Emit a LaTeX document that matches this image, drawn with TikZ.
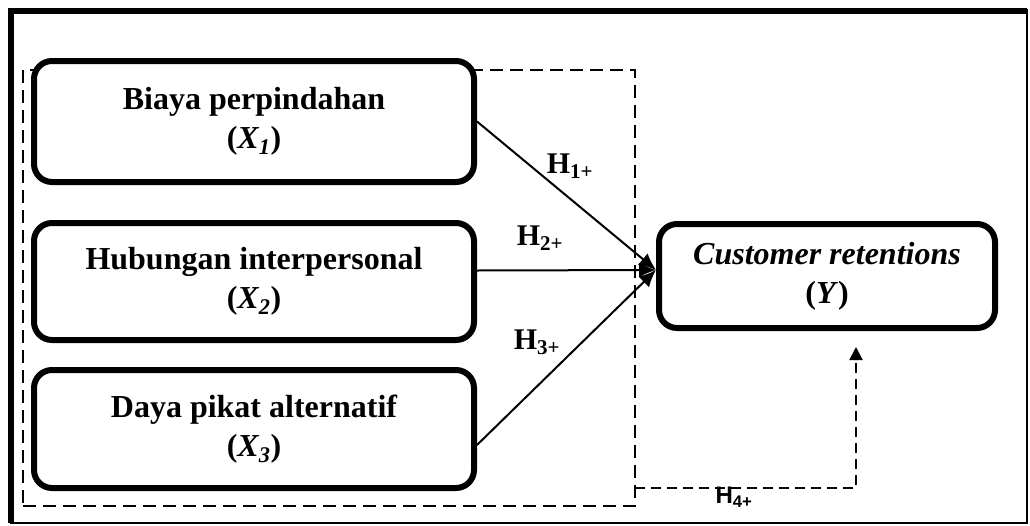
\documentclass[tikz,border=0pt]{standalone}
\usepackage{fontspec}
\setmainfont{Liberation Serif}
\setsansfont{Liberation Sans}
\usepackage{tikz}
\usetikzlibrary{arrows.meta}
\usetikzlibrary{positioning}

\begin{document}
\begin{tikzpicture}[x=1pt,y=-1pt,-,auto,semithick]
  \tikzstyle{varbox}=[draw, line width=6pt, rounded corners=18pt, fill=white, align=center,
     minimum width=440pt, font=\fontsize{32}{39}\selectfont\bfseries]
  \tikzstyle{hlab}=[inner sep=0pt, font=\fontsize{30}{32}\selectfont\bfseries]
  \tikzstyle{path}=[line width=2pt, -{Latex[length=17pt,width=15pt]}]
  \useasboundingbox (0,0) rectangle (1030,525);
  % frame
  \draw[line width=1.5pt] (11,10) rectangle (1027,523);
  \draw[line width=6pt] (11,523) -- (11,10.5) -- (1027,10.5);
  % dashed group
  \node[draw, dashed, line width=2pt, dash pattern=on 13pt off 7pt, minimum width=612pt,
        minimum height=436pt, inner sep=0pt, outer sep=0pt] (grp) at (329,288) {};
  % variables
  \node[varbox, minimum height=121pt] (X1) at (254,121.5) {Biaya perpindahan\\(\textit{X\textsubscript{1}})};
  \node[varbox, minimum height=117pt] (X2) [below=35pt of X1] {Hubungan interpersonal\\(\textit{X\textsubscript{2}})};
  \node[varbox, minimum height=118pt] (X3) [below=24pt of X2] {Daya pikat alternatif\\(\textit{X\textsubscript{3}})};
  \node[varbox, minimum width=336pt, minimum height=104pt] (Y) [right=179pt of X2, yshift=5.5pt]
     {\textit{Customer retentions}\\(\textit{Y})};
  \coordinate (tgt) at ([yshift=6pt]Y.west);
  \coordinate (h4start) at (635,488);
  \coordinate (h4end) at (856,347);
  % hypotheses
  \draw[path] (X1.east) -- (tgt);
  \draw[path] ([yshift=11pt]X2.east) -- (tgt);
  \draw[path] ([yshift=-16pt]X3.east) -- (tgt);
  \draw[line width=2pt, dashed, dash pattern=on 10pt off 6pt, -{Triangle[length=13pt,width=13pt]}] (h4start) -| (h4end);
  \node[hlab] (H1) at (570,166) {H\textsubscript{1+}};
  \node[hlab] (H2) at (540,238) {H\textsubscript{2+}};
  \node[hlab] (H3) at (537,342) {H\textsubscript{3+}};
  \node[hlab, font=\fontsize{24}{26}\selectfont\sffamily\bfseries] (H4) at (734,497) {H\textsubscript{4+}};
\end{tikzpicture}
\end{document}
